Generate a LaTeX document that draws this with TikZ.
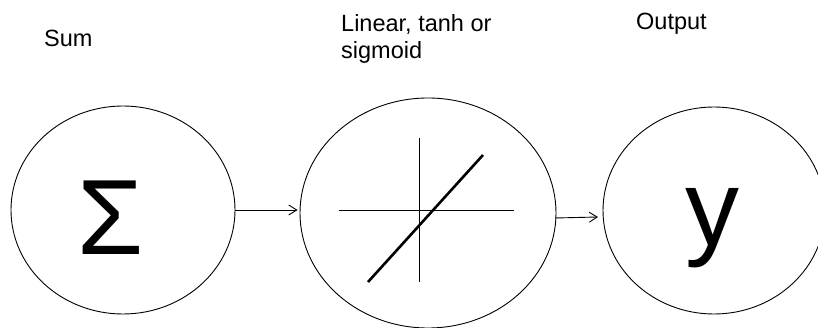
\documentclass[tikz,border=0pt]{standalone}
\usepackage{fontspec}
\setmainfont{Liberation Sans}
\usetikzlibrary{shapes.geometric,arrows.meta}
\tikzset{
  unit/.style={draw, shape=ellipse, inner sep=0pt, line width=0.9pt},
  lbl/.style={anchor=base west, inner sep=0pt, align=left, font=\fontsize{23.5}{26.5}\selectfont},
  glyph/.style={anchor=base, inner sep=0pt},
  conn/.style={line width=0.9pt, -{Straight Barb[length=8pt,width=10pt,line width=0.9pt]}},
  axis/.style={line width=0.9pt},
  curve/.style={line width=2.6pt}
}
\begin{document}
\begin{tikzpicture}[x=1pt,y=-1pt]
\useasboundingbox (0,0) rectangle (818,328);
\clip (0,0) rectangle (818,328);
\node[unit, minimum width=224pt, minimum height=208pt] (sum) at (123,210) {};
\node[unit, minimum width=256pt, minimum height=230pt] (act) at (428,213) {};
\node[unit, minimum width=222pt, minimum height=207pt] (out) at (714,210.5) {};
\node[glyph, font=\fontsize{107}{107}\selectfont] (sigma) at (111,255) {Σ};
\node[glyph, font=\fontsize{108}{108}\selectfont] (yy) at (712,246) {y};
\node[lbl] (tsum) at (44,47) {Sum};
\node[lbl] (tact) at (341,58.5) {Linear, tanh or\\sigmoid};
\node[lbl] (tout) at (636,30) {Output};
\coordinate (hl) at (339,210);
\coordinate (hr) at (514,210);
\coordinate (vt) at (419,138);
\coordinate (vb) at (419,282);
\coordinate (dl) at (368,282);
\coordinate (dr) at (483,155);
\draw[axis] (hl) -- (hr);
\draw[axis] (vt) -- (vb);
\draw[curve] (dl) -- (dr);
\draw[conn] (sum.east) -- ([xshift=-2pt]act.west |- sum.east);
\coordinate (a2s) at (555,218);
\coordinate (a2e) at (598,217);
\draw[conn] (a2s) -- (a2e);
\end{tikzpicture}
\end{document}
